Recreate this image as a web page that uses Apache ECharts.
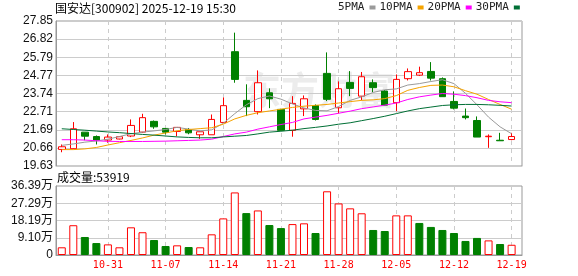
<!DOCTYPE html>
<html><head><meta charset="utf-8">
<script src="https://cdn.jsdelivr.net/npm/echarts@6/dist/echarts.min.js"></script>
<style>html,body{margin:0;padding:0;background:#fff}#c{width:578px;height:276px}</style>
</head><body><div id="c"></div>
<script>
const dates = ['10-27','10-28','10-29','10-30','10-31','11-03','11-04','11-05','11-06','11-07',
  '11-10','11-11','11-12','11-13','11-14','11-17','11-18','11-19','11-20','11-21',
  '11-24','11-25','11-26','11-27','11-28','12-01','12-02','12-03','12-04','12-05',
  '12-08','12-09','12-10','12-11','12-12','12-15','12-16','12-17','12-18','12-19'];
const openP  = [20.57,20.61,21.55,21.30,21.10,21.16,21.33,21.55,22.16,21.76,
  21.59,21.70,21.40,21.40,22.10,26.11,23.35,22.71,23.78,22.84,
  21.65,22.87,23.06,24.88,22.93,24.37,23.59,24.35,23.88,23.22,
  24.58,24.78,24.99,24.58,23.29,22.46,22.21,21.29,21.09,21.13];
const closeP = [20.72,21.74,21.32,21.10,21.27,21.29,21.93,22.37,21.85,21.55,
  21.82,21.51,21.57,22.27,23.05,24.54,22.99,24.35,23.44,21.65,
  23.18,23.44,22.27,23.41,24.01,24.03,24.69,24.07,23.08,24.54,
  24.98,24.92,24.61,23.56,22.91,22.37,21.27,21.32,21.06,21.30];
const lowP   = [20.41,20.59,21.09,20.85,20.95,21.14,21.27,21.51,21.74,21.42,
  21.32,21.43,21.17,21.40,22.10,24.35,22.46,22.55,22.91,21.65,
  21.29,22.46,22.21,23.31,22.61,23.59,23.35,23.82,23.08,22.74,
  24.48,24.73,24.48,23.56,22.84,22.27,21.27,20.66,21.06,21.09];
const highP  = [20.85,22.12,21.55,21.36,21.42,21.31,22.27,22.59,22.21,21.76,
  21.83,21.78,21.58,22.55,23.52,27.19,24.26,25.05,24.03,22.87,
  23.59,23.63,23.12,26.07,24.43,25.01,24.96,24.54,23.93,24.82,
  25.16,25.26,25.52,24.65,23.86,22.89,22.44,21.42,21.51,21.51];
const volume = [40600,157000,95000,63000,56000,40600,146000,120000,79000,47500,
  51000,42000,40600,109000,193000,330000,221000,235000,158000,142000,
  163000,167000,116000,336000,272000,246000,220000,132000,126500,209000,
  209000,169000,148000,132000,116000,74000,90000,77000,58000,53919];
const ma5  = [20.80,20.88,20.98,21.05,21.15,21.30,21.46,21.55,21.62,21.70,
  21.82,21.72,21.62,21.68,22.05,22.60,23.10,23.45,23.60,23.42,
  23.15,22.92,22.78,22.76,23.00,23.35,23.55,23.80,23.95,24.00,
  24.22,24.30,24.42,24.52,24.30,23.75,23.10,22.40,21.85,21.46];
const ma10 = [20.56,20.56,20.60,20.68,20.82,20.95,21.08,21.22,21.38,21.50,
  21.63,21.70,21.75,21.80,22.00,22.30,22.50,22.65,22.75,22.85,
  22.95,23.02,23.07,23.12,23.20,23.28,23.35,23.38,23.45,23.62,
  23.92,24.08,24.20,24.22,24.12,23.90,23.70,23.40,23.12,22.85];
const ma20 = [21.12,21.12,21.10,21.06,21.03,21.02,21.02,21.02,21.03,21.04,
  21.06,21.08,21.10,21.15,21.30,21.45,21.55,21.72,21.85,21.98,
  22.10,22.30,22.40,22.50,22.62,22.74,22.88,22.98,23.08,23.20,
  23.40,23.55,23.65,23.74,23.70,23.62,23.50,23.35,23.27,23.22];
const ma30 = [21.74,21.70,21.66,21.61,21.56,21.52,21.47,21.42,21.38,21.33,
  21.28,21.25,21.23,21.23,21.28,21.32,21.36,21.45,21.55,21.60,
  21.66,21.75,21.82,21.90,22.00,22.08,22.20,22.32,22.45,22.60,
  22.75,22.88,22.97,23.06,23.10,23.12,23.12,23.10,23.07,23.03];
const priceTicks = ['19.63','20.66','21.69','22.71','23.74','24.77','25.79','26.82','27.85'];
const volTicks = ['0','9.10万','18.19万','27.29万','36.39万'];
const maNames = ['5PMA','10PMA','20PMA','30PMA'];
const maColors = ['#9a9a9a','#f5a300','#ff00ff','#006f35'];
const stockTitle = '国安达[300902] 2025-12-19 15:30';

const pMin = 19.63, pMax = 27.85, pInt = (pMax - pMin) / 8;
const vMax = 363900, vInt = vMax / 4;
const RED = '#ff0000', GREEN = '#008000';

const candleData = dates.map((d, i) => [i + 1, openP[i], closeP[i], lowP[i], highP[i]]);
const volData = volume.map((v, i) => {
  const up = i === 0 ? true : closeP[i] >= closeP[i - 1];
  return {value: [i + 1, v], itemStyle: up ? {color: '#ffffff', borderColor: RED, borderWidth: 1} : {color: GREEN, borderColor: GREEN, borderWidth: 1}};
});
const maSeries = [ma5, ma10, ma20, ma30].map((arr, k) => ({
  name: maNames[k], type: 'line', xAxisIndex: 0, yAxisIndex: 0,
  data: arr.map((v, i) => [i + 1, v]), showSymbol: false, symbol: 'none',
  lineStyle: {width: 1, color: maColors[k]}, itemStyle: {color: maColors[k]},
  z: 4, silent: true
}));

const xCommon = {
  type: 'value', min: 0.5, max: 40.9, minInterval: 5, maxInterval: 5,
  axisTick: {show: false},
  splitLine: {show: true, showMinLine: false, showMaxLine: false, lineStyle: {color: '#cccccc', type: [4, 4]}}
};

const chart = echarts.init(document.getElementById('c'), null, {renderer: 'canvas'});
chart.setOption({
  animation: false,
  backgroundColor: '#ffffff',
  title: [
    {text: stockTitle, left: 55, top: 1, padding: 0, textStyle: {fontSize: 12, fontWeight: 'normal', color: '#000', fontFamily: 'Noto Sans CJK SC', lineHeight: 14}},
    {text: '成交量:' + volume[volume.length - 1], left: 57, top: 170, padding: 0, textStyle: {fontSize: 12, fontWeight: 'normal', color: '#000', fontFamily: 'Noto Sans CJK SC', lineHeight: 14}}
  ],
  legend: {
    data: maNames, left: 338, top: 2, padding: 0, align: 'right', itemWidth: 6, itemHeight: 4, itemGap: 4,
    icon: 'rect', textStyle: {fontSize: 11, color: '#222', fontFamily: 'DejaVu Sans Mono'}, selectedMode: false
  },
  graphic: [{type: 'text', left: 243, top: 71, z: -10, silent: true,
    style: {text: '东方财富', fontSize: 38, fontWeight: 'bold', fill: '#ececec', fontFamily: 'Noto Sans CJK SC'}}],
  grid: [
    {left: 56, top: 21, width: 466, height: 145, show: true, borderColor: '#999999', borderWidth: 1, backgroundColor: 'transparent'},
    {left: 56, top: 186, width: 466, height: 69, show: true, borderColor: '#999999', borderWidth: 1, backgroundColor: 'transparent'}
  ],
  xAxis: [
    Object.assign({}, xCommon, {gridIndex: 0, axisLabel: {show: false}, axisLine: {show: true, lineStyle: {color: '#cccccc'}}}),
    Object.assign({}, xCommon, {gridIndex: 1, axisLine: {show: true, lineStyle: {color: '#999999'}},
      axisLabel: {show: true, showMinLabel: false, showMaxLabel: false, margin: 5, color: RED, fontSize: 10, fontFamily: 'DejaVu Sans Mono',
        formatter: v => (Math.abs(v - Math.round(v)) < 1e-6 && dates[Math.round(v) - 1]) ? dates[Math.round(v) - 1] : ''}})
  ],
  yAxis: [
    {type: 'value', gridIndex: 0, min: pMin, max: pMax, interval: pInt,
      axisLine: {show: true, lineStyle: {color: '#999999'}}, axisTick: {show: false},
      axisLabel: {margin: 3, fontSize: 12, color: '#111', fontFamily: 'Liberation Sans, Noto Sans CJK SC',
        formatter: v => priceTicks[Math.round((v - pMin) / pInt)]},
      splitLine: {show: true, showMaxLine: false, lineStyle: {color: '#cccccc'}}},
    {type: 'value', gridIndex: 1, min: 0, max: vMax, interval: vInt,
      axisLine: {show: true, lineStyle: {color: '#999999'}}, axisTick: {show: false},
      axisLabel: {margin: 3, fontSize: 12, color: '#111', fontFamily: 'Liberation Sans, Noto Sans CJK SC',
        formatter: v => volTicks[Math.round(v / vInt)]},
      splitLine: {show: true, showMaxLine: false, showMinLine: false, lineStyle: {color: '#cccccc'}}}
  ],
  series: [
    {type: 'candlestick', name: 'K', xAxisIndex: 0, yAxisIndex: 0, data: candleData,
      encode: {x: 0, y: [1, 2, 3, 4]}, barWidth: 7, z: 3, silent: true,
      itemStyle: {color: '#ffffff', color0: GREEN, borderColor: RED, borderColor0: GREEN, borderWidth: 1}},
    {type: 'bar', name: 'VOL', xAxisIndex: 1, yAxisIndex: 1, data: volData, barWidth: 8, z: 3, silent: true}
  ].concat(maSeries)
});
</script></body></html>
